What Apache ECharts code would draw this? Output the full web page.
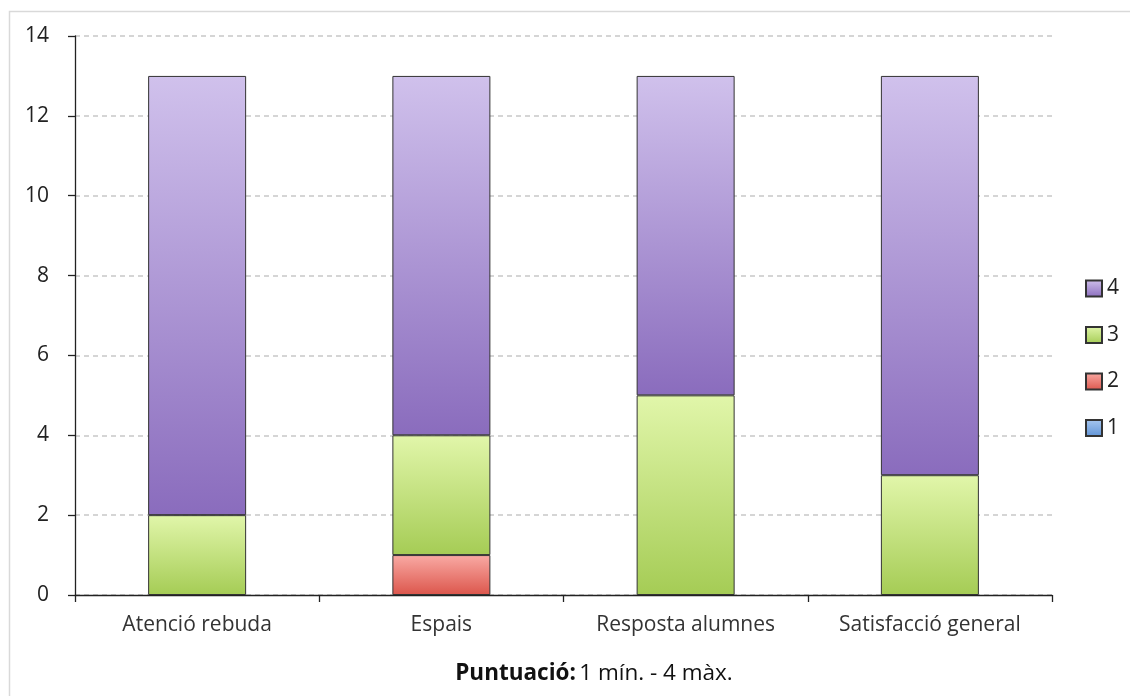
<!DOCTYPE html>
<html><head><meta charset="utf-8">
<script src="https://cdn.jsdelivr.net/npm/echarts@6/dist/echarts.min.js"></script>
<style>html,body{margin:0;padding:0;background:#fff}#c{width:1130px;height:696px}</style>
</head><body><div id="c"></div>
<script>
const categories = ['Atenció rebuda', 'Espais', 'Resposta alumnes', 'Satisfacció general'];
const score1 = [0, 0, 0, 0];
const score2 = [0, 1, 0, 0];
const score3 = [2, 3, 5, 3];
const score4 = [11, 9, 8, 10];
const yTicks = [0, 2, 4, 6, 8, 10, 12, 14];
const seriesNames = ['1', '2', '3', '4'];
const axisTitleBold = 'Puntuació:';
const axisTitleRest = '1 mín. - 4 màx.';

const grads = [
  ['#a9c8f0', '#5f93d6'],
  ['#f9aaa4', '#dc564c'],
  ['#e1f6aa', '#a5cc55'],
  ['#d0c1ec', '#8a6cbd']
];
const FONT = 'Open Sans';
function grad(c){ return new echarts.graphic.LinearGradient(0,0,0,1,[{offset:0,color:c[0]},{offset:1,color:c[1]}]); }
const vals = [score1, score2, score3, score4];
const chart = echarts.init(document.getElementById('c'));
chart.setOption({
  animation: false,
  graphic: [
    {type:'rect', shape:{x:9.5,y:11.5,width:1140,height:700}, style:{fill:'none', stroke:'#d9d9d9', lineWidth:1.5}, silent:true},
    {type:'text', x: 594, y: 674, silent: true, style: {
      text: '{b|' + axisTitleBold + '} {r|' + axisTitleRest + '}',
      align: 'center', verticalAlign: 'middle',
      rich: {b: {fontFamily: FONT, fontSize: 22.5, fontWeight: 'bold', fill: '#111'}, r: {fontFamily: FONT, fontSize: 22.5, fill: '#111'}}
    }}
  ],
  grid: {left: 75, right: 78, top: 36, bottom: 101},
  legend: {
    orient: 'vertical', left: 1085, top: 278, padding: 0,
    data: ['4','3','2','1'], itemWidth: 16, itemHeight: 16, itemGap: 25.5,
    icon: 'rect',
    textStyle: {fontFamily: FONT, fontSize: 21, color: '#222'}
  },
  xAxis: {
    type: 'category', data: categories,
    axisLine: {lineStyle: {color: '#222', width: 1.3}},
    axisTick: {show: true, interval: 0, length: 7, lineStyle: {color: '#222', width: 1.3}},
    axisLabel: {interval: 0, fontFamily: FONT, fontSize: 21, color: '#333', margin: 20}
  },
  yAxis: {
    type: 'value', min: 0, max: 14, interval: 2,
    axisLine: {show: true, lineStyle: {color: '#222', width: 1.3}},
    axisTick: {show: true, length: 7, lineStyle: {color: '#222', width: 1.3}},
    axisLabel: {fontFamily: FONT, fontSize: 21, color: '#222', margin: 26,
      formatter: v => yTicks.includes(v) ? String(v) : ''},
    splitLine: {lineStyle: {color: '#c8c8c8', type: [5, 4], width: 1.5}}
  },
  series: seriesNames.map((n, i) => ({
    name: n, type: 'bar', stack: 'total', barWidth: 98,
    data: vals[i].map(v => v === 0 ? null : v),
    itemStyle: {color: grad(grads[i]), borderColor: '#333', borderWidth: 1}
  }))
});
</script></body></html>
